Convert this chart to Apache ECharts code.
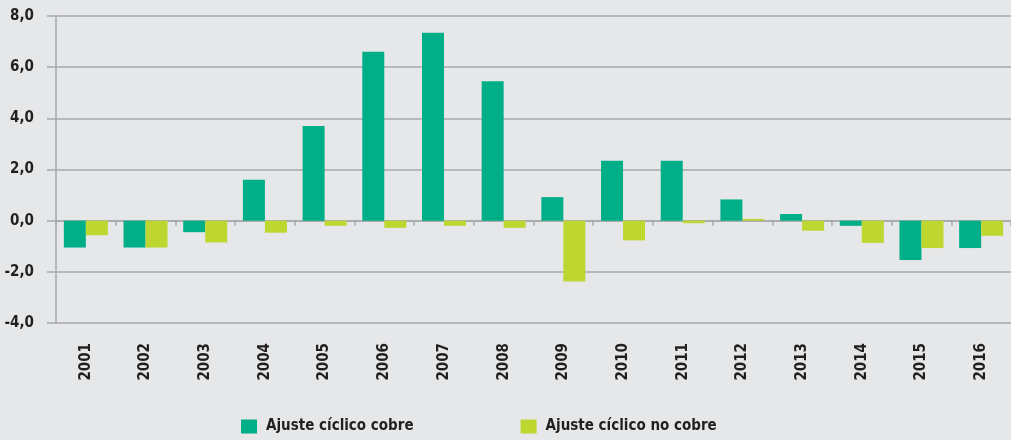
<!DOCTYPE html>
<html>
<head>
<meta charset="utf-8">
<script src="https://cdn.jsdelivr.net/npm/echarts@6/dist/echarts.min.js"></script>
<style>
  html, body { margin: 0; padding: 0; background: #e6e7e8; }
  #chart { width: 1011px; height: 440px; }
</style>
</head>
<body>
<div id="chart"></div>
<script>
const years = ['2001', '2002', '2003', '2004', '2005', '2006', '2007', '2008',
  '2009', '2010', '2011', '2012', '2013', '2014', '2015', '2016'];
const cobre = [-1.05, -1.05, -0.45, 1.6, 3.7, 6.6, 7.35, 5.45,
  0.92, 2.34, 2.34, 0.83, 0.26, -0.2, -1.54, -1.07];
const noCobre = [-0.57, -1.05, -0.85, -0.47, -0.2, -0.28, -0.2, -0.28,
  -2.38, -0.77, -0.1, 0.07, -0.39, -0.87, -1.07, -0.59];

const font = '"DejaVu Sans Condensed", "Liberation Sans Narrow", sans-serif';
const txt = '#231f20';
const gray = '#a7a9ac';

const chart = echarts.init(document.getElementById('chart'));
chart.setOption({
  backgroundColor: '#e6e7e8',
  animation: false,
  textStyle: { fontFamily: font, color: txt },
  grid: { left: 56, right: -2, top: 16, bottom: 117, containLabel: false },
  legend: {
    bottom: 1,
    left: 236,
    itemWidth: 16,
    itemHeight: 14,
    itemGap: 107,
    icon: 'rect',
    textStyle: { fontFamily: font, fontSize: 15, color: txt, fontWeight: 'bold', padding: [0, 0, 0, 4] },
    data: ['Ajuste cíclico cobre', 'Ajuste cíclico no cobre']
  },
  xAxis: [
    {
      type: 'category',
      data: years,
      position: 'bottom',
      axisLine: { show: false, onZero: false },
      axisTick: { show: false },
      axisLabel: { rotate: 90, margin: 20, fontSize: 15, fontWeight: 'bold', color: txt, fontFamily: font }
    },
    {
      // zero line with short ticks between the years
      type: 'category',
      data: years,
      position: 'top',
      axisLine: { show: true, onZero: true, lineStyle: { color: gray, width: 1.5 } },
      axisTick: { show: true, inside: true, length: 5, lineStyle: { color: gray, width: 1.5 } },
      axisLabel: { show: false }
    }
  ],
  yAxis: {
    type: 'value',
    min: -4,
    max: 8,
    interval: 2,
    axisLine: { show: true, lineStyle: { color: gray, width: 1.5 } },
    axisTick: { show: true, length: 9, lineStyle: { color: gray, width: 1.5 } },
    splitLine: { show: true, lineStyle: { color: gray, width: 1.5 } },
    axisLabel: {
      margin: 22,
      fontSize: 15,
      fontWeight: 'bold',
      color: txt,
      fontFamily: font,
      formatter: v => v.toFixed(1).replace('.', ',')
    }
  },
  series: [
    {
      name: 'Ajuste cíclico cobre',
      type: 'bar',
      xAxisIndex: 0,
      data: cobre,
      barWidth: 22,
      barGap: '0%',
      itemStyle: { color: '#00ae87' }
    },
    {
      name: 'Ajuste cíclico no cobre',
      type: 'bar',
      xAxisIndex: 0,
      data: noCobre,
      barWidth: 22,
      barGap: '0%',
      itemStyle: { color: '#bed730' }
    }
  ]
});
</script>
</body>
</html>
